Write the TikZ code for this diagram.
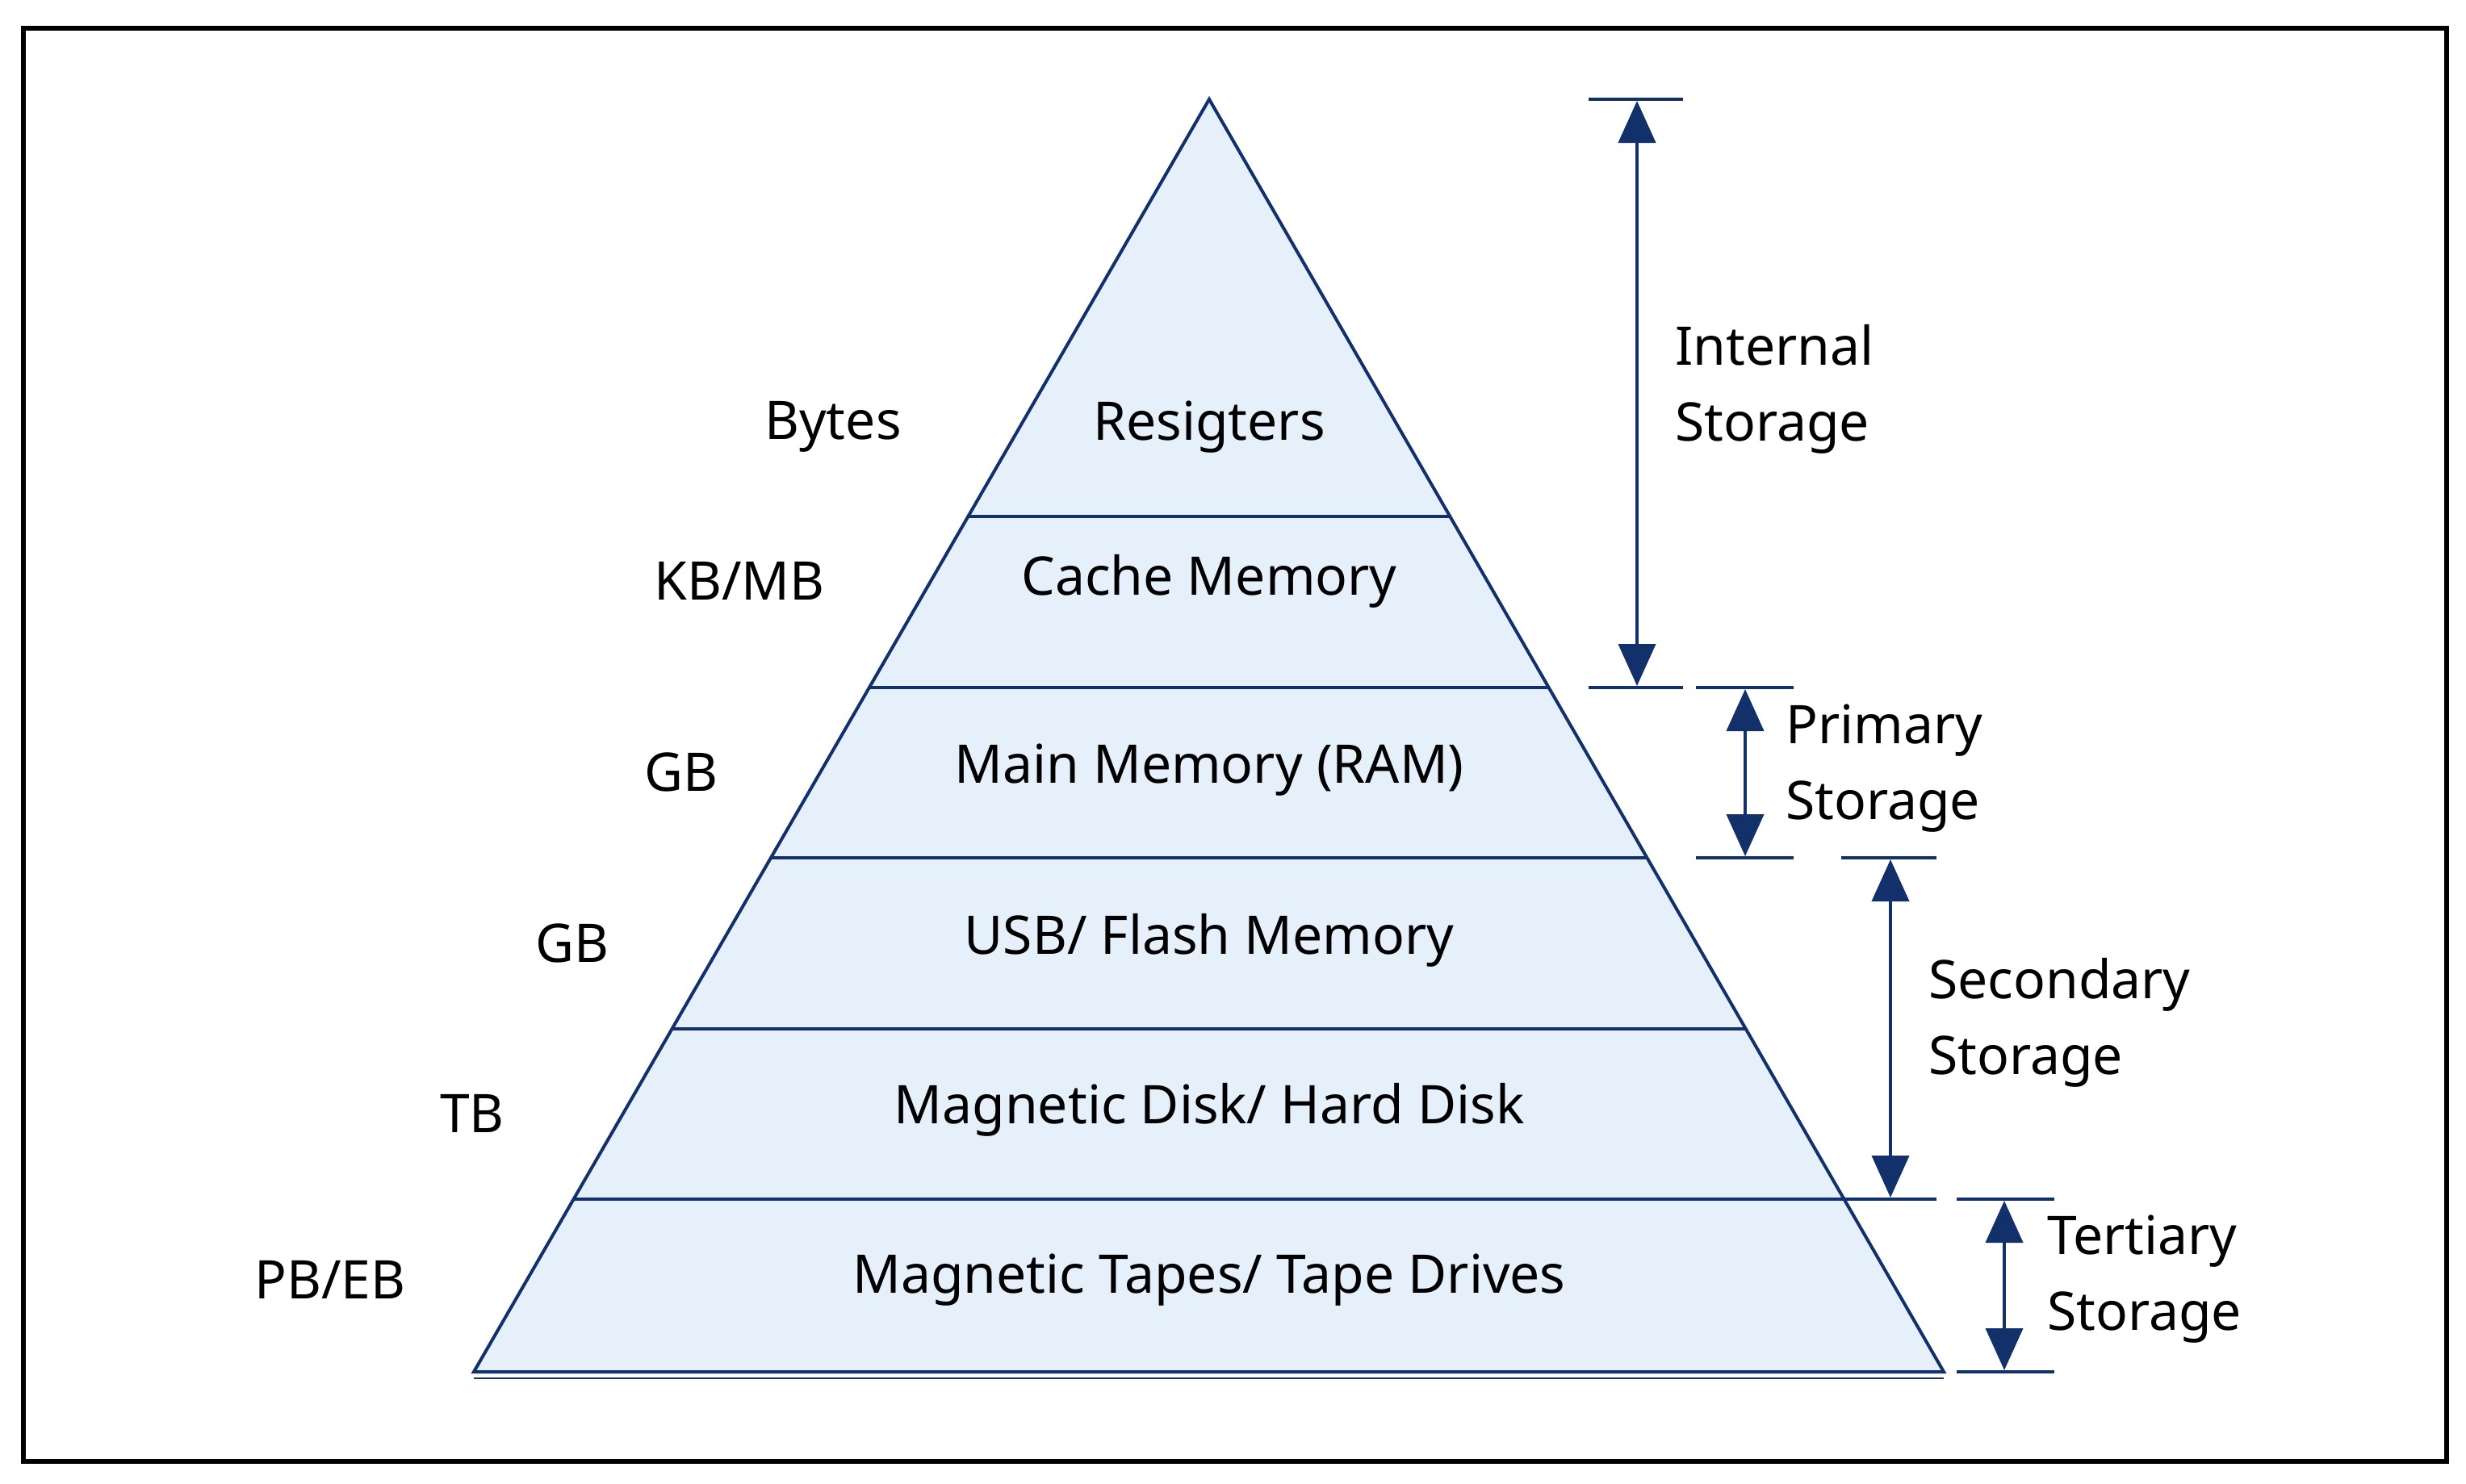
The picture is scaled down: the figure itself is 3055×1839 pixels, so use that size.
\documentclass[tikz,border=0pt]{standalone}
\usepackage{fontspec}
\setmainfont{Noto Sans}
\usetikzlibrary{arrows.meta}
\definecolor{navy}{HTML}{12306A}
\definecolor{pale}{HTML}{E5F0FB}
\begin{document}
\begin{tikzpicture}[x=1pt,y=-1pt,
  lab/.style={font=\fontsize{66}{94}\selectfont, inner sep=0pt},
  lay/.style={lab, font=\fontsize{66}{94}\selectfont\bfseries},
  side/.style={lab, align=left, anchor=west},
  tick/.style={navy, line width=4pt},
  dim/.style={navy, line width=4pt, {Triangle[width=46pt,length=52pt]}-{Triangle[width=46pt,length=52pt]}, shorten <=2pt, shorten >=2pt}]
\useasboundingbox (0,0) rectangle (3055,1839);
\fill[white] (0,0) rectangle (3055,1839);
\draw[black, line width=6pt] (29,35) rectangle (3031,1811);
% pyramid
\coordinate (apex) at (1498,123);
\coordinate (bl) at (587,1700);
\coordinate (br) at (2408,1700);
\fill[pale] (apex) -- (br) -- (bl) -- cycle;
\foreach \y in {640,852,1063,1275,1486}{
  \pgfmathsetmacro{\t}{(\y-123)/(1700-123)}
  \draw[navy, line width=4pt] ({1498-\t*911},\y) -- ({1498+\t*910},\y);
}
\draw[navy, line width=4pt, line join=miter] (apex) -- (br) -- (bl) -- cycle;
\draw[navy, line width=2.5pt] (587,1708) -- (2408,1708);
% layer labels
\node[lay] at (1498,529) {Resigters};
\node[lay] at (1498,720) {Cache Memory};
\node[lay] at (1498,954) {Main Memory (RAM)};
\node[lay] at (1498,1165) {USB/ Flash Memory};
\node[lay] at (1498,1375) {Magnetic Disk/ Hard Disk};
\node[lay] at (1498,1586) {Magnetic Tapes/ Tape Drives};
% size labels
\node[lab] at (1032,529) {Bytes};
\node[lab] at (916,720) {KB/MB};
\node[lab] at (844,957) {GB};
\node[lab] at (709,1169) {GB};
\node[lab] at (585,1380) {TB};
\node[lab] at (409,1586) {PB/EB};
% ticks and dimension arrows
\coordinate (i1) at (2028,123); \coordinate (i2) at (2028,852);
\draw[tick] (1968,123) -- (2085,123); \draw[tick] (1968,852) -- (2085,852);
\draw[dim] (i1) -- (i2);
\coordinate (p1) at (2162,852); \coordinate (p2) at (2162,1063);
\draw[tick] (2101,852) -- (2222,852); \draw[tick] (2101,1063) -- (2222,1063);
\draw[dim] (p1) -- (p2);
\coordinate (s1) at (2342,1063); \coordinate (s2) at (2342,1486);
\draw[tick] (2281,1063) -- (2399,1063); \draw[tick] (2281,1486) -- (2399,1486);
\draw[dim] (s1) -- (s2);
\coordinate (t1) at (2483,1486); \coordinate (t2) at (2483,1700);
\draw[tick] (2424,1486) -- (2545,1486); \draw[tick] (2424,1700) -- (2545,1700);
\draw[dim] (t1) -- (t2);
% side labels
\node[side] at (2075,482) {Internal\\Storage};
\node[side] at (2212,952) {Primary\\Storage};
\node[side] at (2389,1267) {Secondary\\Storage};
\node[side] at (2536,1585) {Tertiary\\Storage};
\end{tikzpicture}
\end{document}
